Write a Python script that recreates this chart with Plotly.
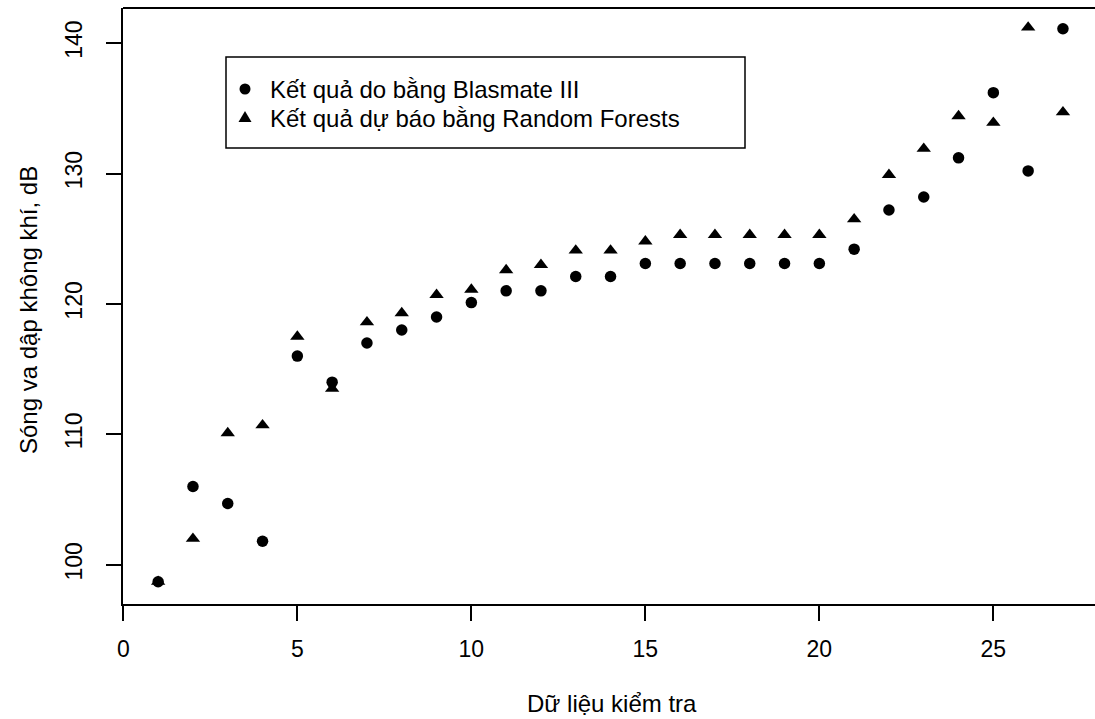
import plotly.graph_objects as go

# ---- data ----
sample_idx = list(range(1, 28))
measured_blasmate = [98.7, 106.0, 104.7, 101.8, 116.0, 114.0, 117.0, 118.0, 119.0, 120.1,
                     121.0, 121.0, 122.1, 122.1, 123.1, 123.1, 123.1, 123.1, 123.1, 123.1,
                     124.2, 127.2, 128.2, 131.2, 136.2, 130.2, 141.1]
predicted_rf = [98.7, 102.0, 110.1, 110.7, 117.5, 113.5, 118.6, 119.3, 120.7, 121.1,
                122.6, 123.0, 124.1, 124.1, 124.8, 125.3, 125.3, 125.3, 125.3, 125.3,
                126.5, 129.9, 131.9, 134.4, 133.9, 141.2, 134.7]
x_ticks = [0, 5, 10, 15, 20, 25]
y_ticks = [100, 110, 120, 130, 140]
legend_labels = ["Kết quả do bằng Blasmate III", "Kết quả dự báo bằng Random Forests"]
x_title = "Dữ liệu kiểm tra"
y_title = "Sóng va dập không khí, dB"

# ---- layout geometry (pixels) ----
W, H = 1095, 719
L, T, B, R = 123, 8, 115, 0
PW, PH = W - L - R, H - T - B
def px(x):
    return (x - L) / PW
def py(y):
    return (H - B - y) / PH

FONT = "Liberation Sans, Arial, sans-serif"

fig = go.Figure()
fig.add_trace(go.Scatter(x=sample_idx, y=measured_blasmate, mode="markers",
                         marker=dict(symbol="circle", size=11.5, color="black"),
                         name=legend_labels[0], showlegend=False))
fig.add_trace(go.Scatter(x=sample_idx, y=predicted_rf, mode="markers",
                         marker=dict(symbol="triangle-up", size=12.5, color="black"),
                         name=legend_labels[1], showlegend=False))

shapes = [
    # top frame line
    dict(type="line", xref="paper", yref="paper", x0=0, x1=1, y0=1, y1=1,
         line=dict(color="black", width=2)),
    # legend box
    dict(type="rect", xref="paper", yref="paper", x0=px(226), x1=px(745), y0=py(148), y1=py(57),
         line=dict(color="black", width=1.5), fillcolor="white"),
    # legend circle symbol
    dict(type="circle", xref="paper", yref="paper", xsizemode="pixel", ysizemode="pixel",
         xanchor=px(245), yanchor=py(89), x0=-5.5, x1=5.5, y0=-5.5, y1=5.5,
         fillcolor="black", line=dict(width=0)),
    # legend triangle symbol
    dict(type="path", xref="paper", yref="paper", xsizemode="pixel", ysizemode="pixel",
         xanchor=px(245), yanchor=py(118), path="M-6.5,-4 L6.5,-4 L0,7 Z",
         fillcolor="black", line=dict(width=0)),
]

annotations = [
    dict(text=legend_labels[0], xref="paper", yref="paper", x=px(268), y=py(89),
         xanchor="left", yanchor="middle", showarrow=False, font=dict(size=24, color="black", family=FONT)),
    dict(text=legend_labels[1], xref="paper", yref="paper", x=px(268), y=py(118),
         xanchor="left", yanchor="middle", showarrow=False, font=dict(size=24, color="black", family=FONT)),
    dict(text=x_title, xref="paper", yref="paper", x=px(612), y=py(703),
         xanchor="center", yanchor="middle", showarrow=False, font=dict(size=24, color="black", family=FONT)),
    dict(text=y_title, xref="paper", yref="paper", x=px(28), y=py(310), textangle=-90,
         xanchor="center", yanchor="middle", showarrow=False, font=dict(size=24, color="black", family=FONT)),
]

fig.update_layout(
    width=W, height=H,
    margin=dict(l=L, r=R, t=T, b=B, pad=0),
    paper_bgcolor="white", plot_bgcolor="white",
    font=dict(family=FONT, color="black", size=23),
    shapes=shapes, annotations=annotations,
    showlegend=False,
)
fig.update_xaxes(range=[-0.01, (W - L - R) / 34.8 - 0.01], tickvals=x_ticks,
                 ticks="outside", ticklen=15, tickwidth=1.5, tickcolor="black",
                 showline=True, linecolor="black", linewidth=2, showgrid=False, zeroline=False,
                 ticklabelstandoff=8, tickfont=dict(size=23))
fig.update_yaxes(range=[96.99, 142.69], tickvals=y_ticks, tickangle=-90,
                 ticks="outside", ticklen=15, tickwidth=1.5, tickcolor="black",
                 showline=True, linecolor="black", linewidth=2, showgrid=False, zeroline=False,
                 ticklabelstandoff=15, tickfont=dict(size=23))

fig.write_html("out.html")
